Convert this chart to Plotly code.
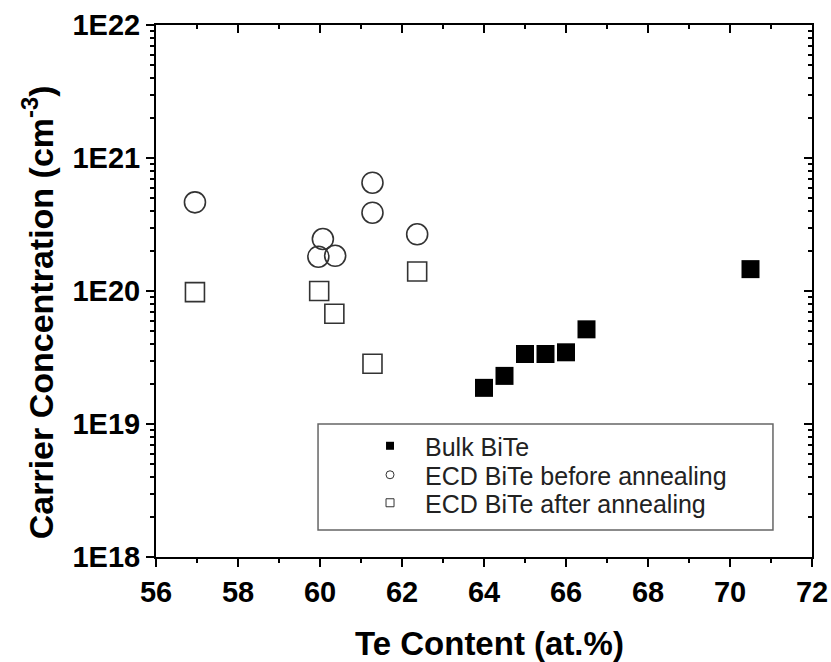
import plotly.graph_objects as go

# Te content (at.%) and carrier concentration (cm^-3)
bulk_te = [64.0, 64.5, 65.0, 65.5, 66.0, 66.5, 70.5]
bulk_n = [1.87e19, 2.30e19, 3.36e19, 3.36e19, 3.46e19, 5.15e19, 1.46e20]

before_te = [56.95, 60.07, 59.96, 60.37, 61.28, 61.28, 62.37]
before_n = [4.64e20, 2.46e20, 1.81e20, 1.84e20, 6.52e20, 3.88e20, 2.67e20]

after_te = [56.95, 59.98, 60.35, 61.28, 62.37]
after_n = [9.8e19, 1.0e20, 6.75e19, 2.84e19, 1.40e20]

x_ticks = [56, 58, 60, 62, 64, 66, 68, 70, 72]
y_tickvals = [1e18, 1e19, 1e20, 1e21, 1e22]
y_ticktext = ["1E18", "1E19", "1E20", "1E21", "1E22"]

series_names = ["Bulk BiTe", "ECD BiTe before annealing", "ECD BiTe after annealing"]

FONT = "Arial"
INK = "#333333"

fig = go.Figure()

fig.add_trace(go.Scatter(
    x=bulk_te, y=bulk_n, mode="markers", showlegend=False,
    marker=dict(symbol="square", size=18, color="black", line=dict(width=0)),
))
fig.add_trace(go.Scatter(
    x=before_te, y=before_n, mode="markers", showlegend=False,
    marker=dict(symbol="circle-open", size=21, color=INK, line=dict(width=1.6, color=INK)),
))
fig.add_trace(go.Scatter(
    x=after_te, y=after_n, mode="markers", showlegend=False,
    marker=dict(symbol="square-open", size=19, color=INK, line=dict(width=1.6, color=INK)),
))

# legend entries with small symbols, one legend per row
legend_symbols = [
    dict(symbol="square", size=8, color="black", line=dict(width=0)),
    dict(symbol="circle-open", size=8, color=INK, line=dict(width=1, color=INK)),
    dict(symbol="square-open", size=8, color=INK, line=dict(width=1, color=INK)),
]
legend_ids = ["legend", "legend2", "legend3"]
for name, sym, lid in zip(series_names, legend_symbols, legend_ids):
    fig.add_trace(go.Scatter(
        x=[None], y=[None], mode="markers", name=name, marker=sym,
        xaxis="x2", yaxis="y2", legend=lid, showlegend=True,
    ))

tick_font = dict(family=FONT, size=29, color="black", weight="bold")

common_x = dict(range=[56, 72], tickmode="array", tickvals=x_ticks, showgrid=False,
                zeroline=False, showline=True, linecolor="black", linewidth=2,
                tickcolor="black", tickwidth=2, ticklen=8, automargin=False)
common_y = dict(type="log", range=[18, 22], tickmode="array", tickvals=y_tickvals,
                showgrid=False, zeroline=False, showline=True, linecolor="black",
                linewidth=2, tickcolor="black", tickwidth=2, ticklen=8, automargin=False)

legend_common = dict(bgcolor="rgba(0,0,0,0)", borderwidth=0, itemwidth=60,
                     font=dict(family=FONT, size=25, color="#222222"),
                     xanchor="left", yanchor="middle", x=0.3034)

fig.update_layout(
    width=831, height=662,
    margin=dict(l=156, r=19, t=25, b=105, autoexpand=False),
    paper_bgcolor="white", plot_bgcolor="white",
    xaxis=dict(**common_x, ticks="outside", ticktext=[str(v) for v in x_ticks],
               tickfont=tick_font,
               minor=dict(dtick=1, ticks="outside", ticklen=4, tickwidth=2,
                          tickcolor="black", showgrid=False)),
    xaxis2=dict(**common_x, overlaying="x", side="top", ticks="inside",
                showticklabels=False,
                minor=dict(dtick=1, ticks="inside", ticklen=4, tickwidth=2,
                           tickcolor="black", showgrid=False)),
    yaxis=dict(**common_y, ticks="outside", ticktext=y_ticktext, tickfont=tick_font,
               minor=dict(dtick="D1", ticks="outside", ticklen=4, tickwidth=1.5,
                          tickcolor="black", showgrid=False)),
    yaxis2=dict(**common_y, overlaying="y", side="right", ticks="inside",
                showticklabels=False,
                minor=dict(dtick="D1", ticks="inside", ticklen=4, tickwidth=1.5,
                           tickcolor="black", showgrid=False)),
    legend=dict(**legend_common, y=0.2086),
    legend2=dict(**legend_common, y=0.1541),
    legend3=dict(**legend_common, y=0.1015),
    shapes=[dict(type="rect", xref="paper", yref="paper",
                 x0=0.247, x1=0.9405, y0=0.0508, y1=0.25,
                 line=dict(color="#666666", width=1.5), fillcolor="rgba(0,0,0,0)",
                 layer="below")],
    annotations=[
        dict(text="Te Content (at.%)", xref="paper", yref="paper",
             x=0.509, y=-0.1617, xanchor="center", yanchor="middle", showarrow=False,
             font=dict(family=FONT, size=33, color="black", weight="bold")),
        dict(text="Carrier Concentration (cm<sup>-3</sup>)", xref="paper", yref="paper",
             x=-0.181, y=0.4605, xanchor="center", yanchor="middle", showarrow=False,
             textangle=-90,
             font=dict(family=FONT, size=34, color="black", weight="bold")),
    ],
)

fig.write_html("out.html")
